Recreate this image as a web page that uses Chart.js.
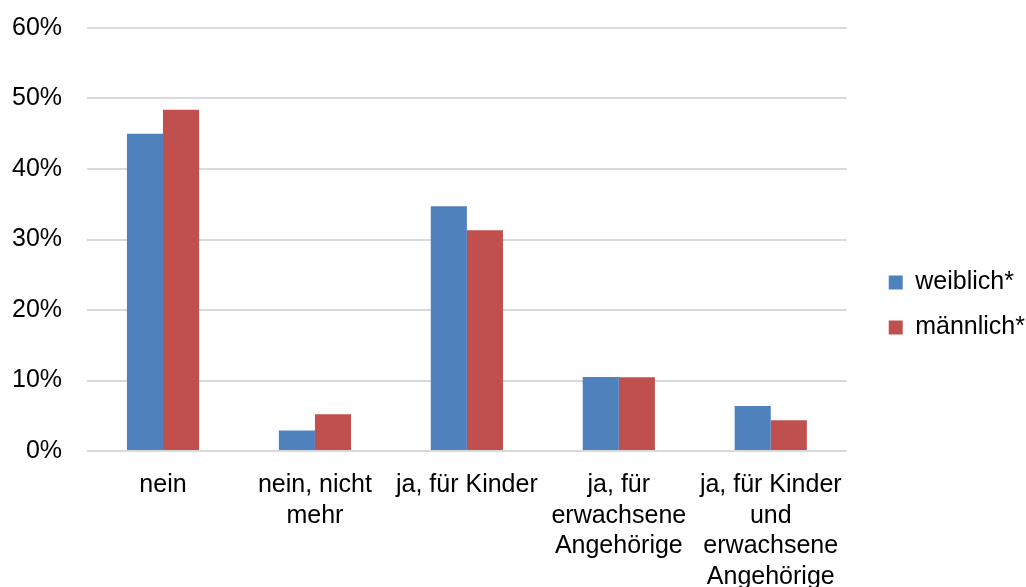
<!DOCTYPE html>
<html>
<head>
<meta charset="utf-8">
<script src="https://cdn.jsdelivr.net/npm/chart.js@4"></script>
<style>
    body { margin: 0; background: #fff; }
    #box { width: 1026px; height: 587px; }
</style>
</head>
<body>
<div id="box"><canvas id="answerChart"></canvas></div>
<script>
const categories = [
    ["nein"],
    ["nein, nicht", "mehr"],
    ["ja, für Kinder"],
    ["ja, für", "erwachsene", "Angehörige"],
    ["ja, für Kinder", "und", "erwachsene", "Angehörige"]
];
const seriesNames = ["weiblich*", "männlich*"];
const weiblich = [45.0, 2.9, 34.7, 10.5, 6.4];
const maennlich = [48.4, 5.2, 31.3, 10.45, 4.35];
const yTicks = [0, 10, 20, 30, 40, 50, 60];

Chart.defaults.font.family = "'Liberation Sans', Arial, sans-serif";
Chart.defaults.font.size = 25;
Chart.defaults.color = "#000";

const ctx = document.getElementById("answerChart").getContext('2d');

const data = {
    labels: categories,
    datasets: [
        {
            label: seriesNames[0],
            data: weiblich,
            backgroundColor: "#4f81bd",
            yAxisID: 'y'
        },
        {
            label: seriesNames[1],
            data: maennlich,
            backgroundColor: "#c0504d",
            yAxisID: 'y'
        }
    ]
};

const config = {
    type: 'bar',
    data: data,
    options: {
        responsive: true,
        maintainAspectRatio: false,
        animation: false,
        layout: {
            padding: { top: -1, left: -13, right: -9, bottom: -24 }
        },
        datasets: {
            bar: { categoryPercentage: 0.475, barPercentage: 1 }
        },
        scales: {
            x: {
                grid: { display: false, drawTicks: false },
                border: { display: false },
                ticks: { padding: 19, maxRotation: 0, autoSkip: false, font: { lineHeight: 1.22 } }
            },
            y: {
                min: yTicks[0],
                max: yTicks[yTicks.length - 1],
                afterBuildTicks: axis => {
                    axis.ticks = yTicks.map(v => ({ value: v }));
                },
                // keep the top of the plot where the 60% line is
                afterFit: axis => { axis.paddingTop = 28; },
                grid: { color: "#d9d9d9", lineWidth: 2, drawTicks: false },
                border: { display: false },
                ticks: {
                    padding: 25,
                    callback: v => v + "%"
                }
            },
            // empty spacer between plot and legend
            gap: {
                position: 'right',
                min: 0,
                max: 1,
                grid: { display: false, drawTicks: false },
                border: { display: false },
                ticks: { display: false },
                afterFit: axis => { axis.width = 22; }
            }
        },
        plugins: {
            legend: {
                position: 'right',
                labels: {
                    boxWidth: 14,
                    boxHeight: 14,
                    padding: 20
                }
            },
            tooltip: { enabled: false }
        }
    }
};

let chart1 = new Chart(ctx, config);
</script>
</body>
</html>
